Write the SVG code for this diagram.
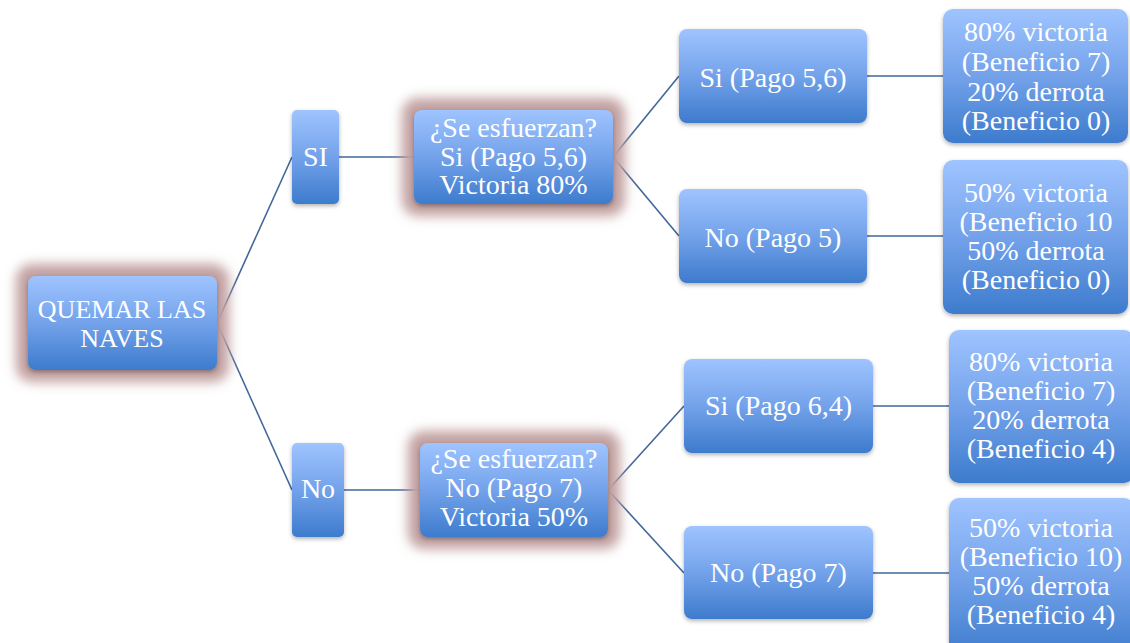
<svg xmlns="http://www.w3.org/2000/svg" width="1130" height="643" viewBox="0 0 1130 643">
<defs>
<linearGradient id="g" x1="0" y1="0" x2="0" y2="1">
<stop offset="0" stop-color="#9fc4ff"/>
<stop offset="0.5" stop-color="#73a2ea"/>
<stop offset="1" stop-color="#3d7bcd"/>
</linearGradient>
<filter id="sh" x="-20%" y="-20%" width="140%" height="140%">
<feDropShadow dx="0" dy="2" stdDeviation="2" flood-color="#000" flood-opacity="0.3"/>
</filter>
<filter id="glow" x="-30%" y="-30%" width="160%" height="160%">
<feGaussianBlur stdDeviation="6"/>
</filter>
</defs>
<style>
.n{fill:url(#g);filter:url(#sh)}
.gl{fill:#c2a0a0;filter:url(#glow)}
text{font-family:"Liberation Serif","Times New Roman",serif;font-size:28px;fill:#fff;text-anchor:middle}
.r{font-size:26px}
.c line{stroke:#41679a;stroke-width:1.6}
</style>
<rect width="1130" height="643" fill="#fff"/>
<g class="c">
<line x1="217" y1="323" x2="292" y2="157"/>
<line x1="217" y1="323" x2="292" y2="490"/>
<line x1="339" y1="157" x2="414" y2="157"/>
<line x1="344" y1="490" x2="420" y2="490"/>
<line x1="613" y1="157" x2="679" y2="76"/>
<line x1="613" y1="157" x2="679" y2="236"/>
<line x1="608" y1="490" x2="684" y2="406"/>
<line x1="608" y1="490" x2="684" y2="573"/>
<line x1="867" y1="76" x2="943" y2="76"/>
<line x1="867" y1="236" x2="943" y2="236"/>
<line x1="873" y1="406" x2="949" y2="406"/>
<line x1="873" y1="573" x2="949" y2="573"/>
</g>
<g id="root">
<rect class="gl" x="16" y="264" width="213" height="118" rx="16"/>
<rect class="n" x="28" y="276" width="189" height="94" rx="8"/>
<text class="r" x="122" y="318">QUEMAR LAS</text>
<text class="r" x="122" y="347">NAVES</text>
</g>
<g id="si">
<rect class="n" x="292" y="110" width="47" height="94" rx="5"/>
<text x="315.5" y="166">SI</text>
</g>
<g id="no">
<rect class="n" x="292" y="443" width="52" height="94" rx="5"/>
<text x="318" y="498">No</text>
</g>
<g id="esf1">
<rect class="gl" x="402" y="98" width="223" height="118" rx="16"/>
<rect class="n" x="414" y="110" width="199" height="94" rx="8"/>
<text x="513.5" y="137">¿Se esfuerzan?</text>
<text x="513.5" y="165.5">Si (Pago 5,6)</text>
<text x="513.5" y="194">Victoria 80%</text>
</g>
<g id="esf2">
<rect class="gl" x="408" y="431" width="212" height="118" rx="16"/>
<rect class="n" x="420" y="443" width="188" height="94" rx="8"/>
<text x="514" y="468">¿Se esfuerzan?</text>
<text x="514" y="497">No (Pago 7)</text>
<text x="514" y="526">Victoria 50%</text>
</g>
<g id="pago56">
<rect class="n" x="679" y="29" width="188" height="94" rx="8"/>
<text x="773" y="87">Si (Pago 5,6)</text>
</g>
<g id="pago5">
<rect class="n" x="679" y="189" width="188" height="94" rx="8"/>
<text x="773" y="247">No (Pago 5)</text>
</g>
<g id="pago64">
<rect class="n" x="684" y="359" width="189" height="94" rx="8"/>
<text x="778.5" y="415">Si (Pago 6,4)</text>
</g>
<g id="pago7">
<rect class="n" x="684" y="526" width="189" height="93" rx="8"/>
<text x="778.5" y="582">No (Pago 7)</text>
</g>
<g id="leaf1">
<rect class="n" x="943" y="9" width="185" height="134" rx="10"/>
<text x="1036" y="41">80% victoria</text>
<text x="1036" y="71">(Beneficio 7)</text>
<text x="1036" y="101">20% derrota</text>
<text x="1036" y="130">(Beneficio 0)</text>
</g>
<g id="leaf2">
<rect class="n" x="943" y="160" width="185" height="154" rx="10"/>
<text x="1036" y="202">50% victoria</text>
<text x="1036" y="231">(Beneficio 10</text>
<text x="1036" y="260">50% derrota</text>
<text x="1036" y="289">(Beneficio 0)</text>
</g>
<g id="leaf3">
<rect class="n" x="949" y="330" width="185" height="153" rx="10"/>
<text x="1041" y="371">80% victoria</text>
<text x="1041" y="400">(Beneficio 7)</text>
<text x="1041" y="429">20% derrota</text>
<text x="1041" y="458">(Beneficio 4)</text>
</g>
<g id="leaf4">
<rect class="n" x="949" y="498" width="185" height="160" rx="10"/>
<text x="1041" y="537">50% victoria</text>
<text x="1041" y="566">(Beneficio 10)</text>
<text x="1041" y="595">50% derrota</text>
<text x="1041" y="624">(Beneficio 4)</text>
</g>
</svg>
